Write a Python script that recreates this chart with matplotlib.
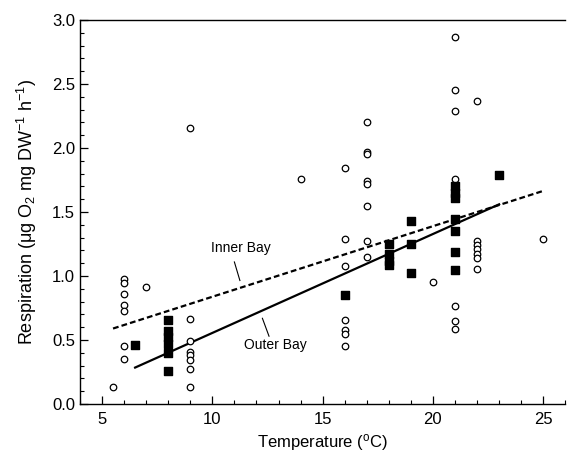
import numpy as np
import matplotlib
matplotlib.use("Agg")
import matplotlib.pyplot as plt
from matplotlib.ticker import MultipleLocator

plt.rcParams['font.family'] = ['Liberation Sans', 'DejaVu Sans']
plt.rcParams['mathtext.fontset'] = 'custom'
plt.rcParams['mathtext.rm'] = 'Liberation Sans'
plt.rcParams['mathtext.it'] = 'Liberation Sans'

# Open circles (one group of observations)
open_x = [5.5,
          6, 6, 6, 6, 6, 6, 6,
          7,
          9,
          9, 9, 9, 9, 9, 9, 9,
          14,
          16, 16, 16, 16, 16, 16, 16,
          17, 17, 17, 17, 17, 17, 17, 17,
          20,
          21, 21, 21, 21, 21, 21, 21,
          22,
          22, 22, 22, 22, 22, 22,
          25]
open_y = [0.13,
          0.975, 0.945, 0.86, 0.77, 0.73, 0.45, 0.355,
          0.915,
          2.16,
          0.665, 0.49, 0.41, 0.38, 0.345, 0.27, 0.13,
          1.76,
          1.84, 1.29, 1.08, 0.66, 0.58, 0.55, 0.45,
          2.20, 1.97, 1.955, 1.745, 1.72, 1.55, 1.27, 1.15,
          0.95,
          2.87, 2.45, 2.29, 1.755, 0.765, 0.645, 0.585,
          2.37,
          1.27, 1.24, 1.21, 1.17, 1.14, 1.055,
          1.29]

# Filled squares
fill_x = [6.5,
          8, 8, 8, 8, 8, 8,
          16,
          18, 18, 18, 18,
          19, 19, 19,
          21, 21, 21, 21, 21, 21, 21,
          23]
fill_y = [0.46,
          0.66, 0.57, 0.52, 0.47, 0.40, 0.26,
          0.85,
          1.25, 1.17, 1.12, 1.085,
          1.43, 1.25, 1.025,
          1.70, 1.65, 1.61, 1.445, 1.35, 1.185, 1.045,
          1.79]

# Regression lines
inner_x = [5.5, 25.0]
inner_y = [0.59, 1.665]
outer_x = [6.5, 23.0]
outer_y = [0.285, 1.56]

fig = plt.figure(figsize=(5.67, 4.54), dpi=100)
ax = fig.add_axes([0.141, 0.110, 0.856, 0.846])

ax.plot(inner_x, inner_y, ls=(0, (2.6, 1.4)), color='black', lw=1.6)
ax.plot(outer_x, outer_y, ls='-', color='black', lw=1.6)
ax.scatter(open_x, open_y, s=22, facecolors='white', edgecolors='black', linewidths=0.9, zorder=3)
ax.scatter(fill_x, fill_y, s=30, marker='s', color='black', zorder=4)

ax.text(11.3, 1.22, 'Inner Bay', fontsize=10, ha='center', va='center')
ax.plot([11.0, 11.25], [1.11, 0.965], color='black', lw=0.8)
ax.text(12.85, 0.46, 'Outer Bay', fontsize=10, ha='center', va='center')
ax.plot([12.27, 12.57], [0.67, 0.53], color='black', lw=0.8)

ax.set_xlim(4, 26)
ax.set_ylim(0, 3.0)
ax.xaxis.set_major_locator(MultipleLocator(5))
ax.xaxis.set_minor_locator(MultipleLocator(1))
ax.yaxis.set_major_locator(MultipleLocator(0.5))
ax.yaxis.set_minor_locator(MultipleLocator(0.1))
ax.yaxis.set_major_formatter(matplotlib.ticker.FormatStrFormatter('%.1f'))
ax.tick_params(which='major', direction='in', length=6, width=0.9, labelsize=12, top=False, right=False)
ax.tick_params(which='minor', direction='in', length=3, width=0.8, top=False, right=False)
ax.tick_params(axis='x', pad=6)
for s in ax.spines.values():
    s.set_linewidth(1.0)
ax.spines['right'].set_visible(False)

ax.set_xlabel('Temperature ($^{\\mathrm{o}}$C)', fontsize=12, labelpad=3)
ax.set_ylabel('Respiration ($\\mu$g O$_2$ mg DW$^{-1}$ h$^{-1}$)', fontsize=13, labelpad=9)

fig.savefig('out.png', dpi=100)
